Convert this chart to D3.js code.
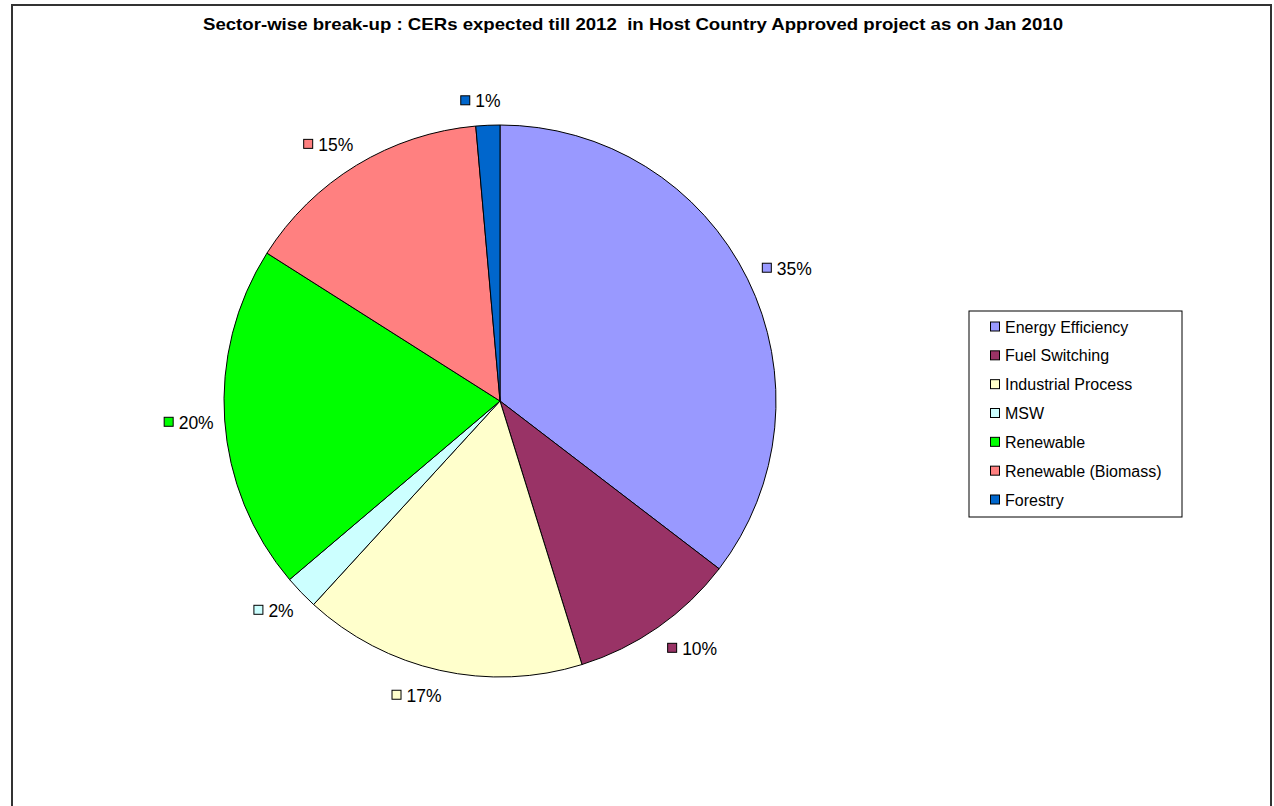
<!DOCTYPE html>
<html><head><meta charset="utf-8">
<script src="https://cdn.jsdelivr.net/npm/d3@7"></script>
<style>html,body{margin:0;padding:0;background:#fff;} svg{display:block;}</style>
</head><body>
<svg id="c" width="1274" height="806"></svg>
<script>
const categories = ["Energy Efficiency","Fuel Switching","Industrial Process","MSW","Renewable","Renewable (Biomass)","Forestry"];
const values = [35.4, 9.8, 16.6, 2.0, 20.2, 14.6, 1.4];
const labels = ["35%","10%","17%","2%","20%","15%","1%"];
const colors = ["#9999FF","#993366","#FFFFCC","#CCFFFF","#00FF00","#FF8080","#0066CC"];
const title = "Sector-wise break-up : CERs expected till 2012  in Host Country Approved project as on Jan 2010";

const svg = d3.select("#c");
const font = "'Liberation Sans', Arial, sans-serif";

// outer border
svg.append("rect").attr("x",12).attr("y",5).attr("width",1259).attr("height",806)
  .attr("fill","#fff").attr("stroke","#333").attr("stroke-width",2);

svg.append("text").attr("x",633).attr("y",30).attr("text-anchor","middle")
  .attr("font-family",font).attr("font-weight","bold").attr("font-size",17)
  .attr("textLength",860).attr("lengthAdjust","spacingAndGlyphs")
  .style("white-space","pre").text(title);

const cx=500, cy=401, r=276;
const data = categories.map((c,i)=>({name:c,value:values[i],label:labels[i],color:colors[i]}));
const pie = d3.pie().sort(null).value(d=>d.value);
const arcs = pie(data);
const arc = d3.arc().innerRadius(0).outerRadius(r);
const g = svg.append("g").attr("transform",`translate(${cx},${cy})`);
g.selectAll("path").data(arcs).join("path")
  .attr("d",arc).attr("fill",d=>d.data.color).attr("stroke","#000").attr("stroke-width",1);

// labels (outside end, anchored by the side of the pie)
const lr = 292, lh = 18;
arcs.forEach(a=>{
  const m=(a.startAngle+a.endAngle)/2;
  const s=Math.sin(m), c=Math.cos(m);
  const ax=cx+lr*s, ay=cy-lr*c;
  const lg=svg.append("g");
  const t=lg.append("text").attr("font-family",font).attr("font-size",17.5)
    .attr("dominant-baseline","central").text(a.data.label);
  const tw=t.node().getComputedTextLength();
  const total=10+5+tw;
  const f=0.45-0.45*Math.tanh(12*s);
  const x0=ax-total*f;
  const yc=ay-lh*(1+c)/2+lh/2;
  lg.append("rect").attr("x",x0+0.5).attr("y",yc-4.5).attr("width",9).attr("height",9)
    .attr("fill",a.data.color).attr("stroke","#000").attr("stroke-width",1);
  t.attr("x",x0+15).attr("y",yc+1);
});

// legend
const lx=969, ly=311, lw=213, lhgt=206;
svg.append("rect").attr("x",lx).attr("y",ly).attr("width",lw).attr("height",lhgt)
  .attr("fill","#fff").attr("stroke","#000").attr("stroke-width",1);
const rowY = d3.scalePoint().domain(categories).range([326,499]);
categories.forEach((c,i)=>{
  const y=rowY(c);
  svg.append("rect").attr("x",990.5).attr("y",y-4).attr("width",9).attr("height",9)
    .attr("fill",colors[i]).attr("stroke","#000").attr("stroke-width",1);
  svg.append("text").attr("x",1005).attr("y",y+1).attr("dominant-baseline","central")
    .attr("font-family",font).attr("font-size",16).text(c);
});
</script>
</body></html>
